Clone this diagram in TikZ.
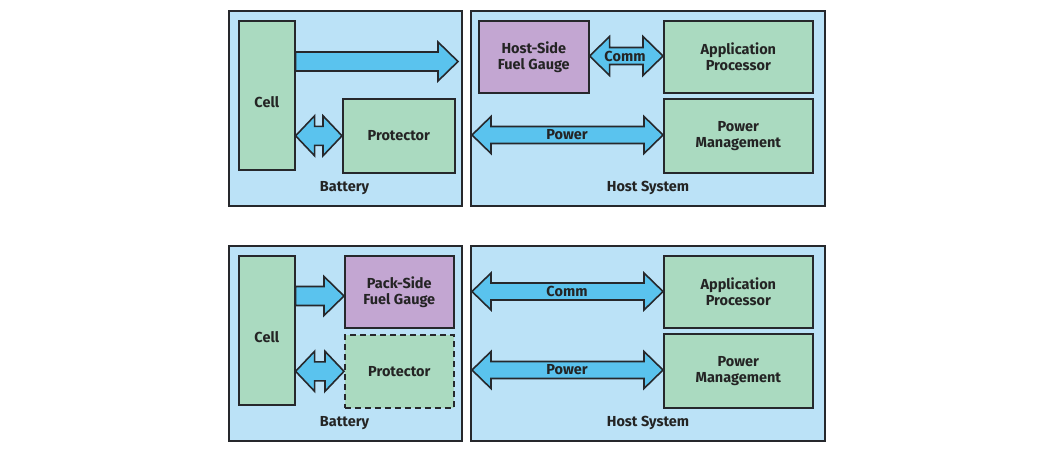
\documentclass[tikz,border=0pt]{standalone}
\usepackage{fontspec}
\setmainfont{Fira Sans}
\usetikzlibrary{calc}
\definecolor{panel}{RGB}{187,226,247}
\definecolor{boxgreen}{RGB}{170,218,192}
\definecolor{boxpurple}{RGB}{195,166,210}
\definecolor{arrcyan}{RGB}{90,195,238}
\definecolor{edge}{RGB}{38,40,44}
\definecolor{txt}{RGB}{36,36,36}
\tikzset{
  base/.style={draw=edge, line width=1.6pt, anchor=north west, inner sep=0pt,
    align=center, text=txt, font=\bfseries\fontsize{14.5}{16}\selectfont},
  panelbox/.style={base, fill=panel},
  greenbox/.style={base, fill=boxgreen},
  purplebox/.style={base, fill=boxpurple},
  dashbox/.style={base, fill=boxgreen, dash pattern=on 6pt off 4pt},
  arr/.style={draw=edge, fill=arrcyan, line width=1.6pt, line join=miter},
  lbl/.style={text=txt, font=\bfseries\fontsize{14.5}{16}\selectfont, inner sep=0pt}
}
% #1 start, #2 end, #3 head length, #4 head half height, #5 body half height
\newcommand\dblarr[5]{%
  \draw[arr] (#1) -- ($(#1)+(#3,#4)$) -- ($(#1)+(#3,#5)$) -- ($(#2)+(-#3,#5)$)
    -- ($(#2)+(-#3,#4)$) -- (#2) -- ($(#2)+(-#3,-#4)$) -- ($(#2)+(-#3,-#5)$)
    -- ($(#1)+(#3,-#5)$) -- ($(#1)+(#3,-#4)$) -- cycle;}
\newcommand\sglarr[5]{%
  \draw[arr] ($(#1)+(0,#5)$) -- ($(#2)+(-#3,#5)$) -- ($(#2)+(-#3,#4)$) -- (#2)
    -- ($(#2)+(-#3,-#4)$) -- ($(#2)+(-#3,-#5)$) -- ($(#1)+(0,-#5)$) -- cycle;}
\begin{document}
\begin{tikzpicture}[x=1pt,y=-1pt]
\useasboundingbox[fill=white] (0,0) rectangle (1051,450);
% ---------- top ----------
\node[panelbox, minimum width=233, minimum height=195] (bat1) at (228,10) {};
\node[greenbox, minimum width=56, minimum height=149] (cell1) at (238,20) {};
\node[lbl] (cell1lbl) at ($(cell1.center)+(0,7)$) {Cell};
\node[greenbox, minimum width=112, minimum height=74] (prot1) at (342,98) {Protector};
\node[lbl] (bat1lbl) at (344.5,188) {Battery};
\node[panelbox, minimum width=354, minimum height=195] (host1) at (470,10) {};
\node[purplebox, minimum width=110, minimum height=72] (hsfg) at (478,20) {Host-Side\\Fuel Gauge};
\node[greenbox, minimum width=149, minimum height=72] (ap1) at (663,20) {Application\\Processor};
\node[greenbox, minimum width=149, minimum height=74] (pm1) at (663,98) {Power\\Management};
\node[lbl] (host1lbl) at (648,188) {Host System};
\coordinate (a1s) at (cell1.east |- 0,61.5);
\coordinate (a1e) at (458,61.5);
\sglarr{a1s}{a1e}{20}{19.5}{9.5}
\coordinate (a2s) at (cell1.east |- prot1.west);
\dblarr{a2s}{prot1.west}{19}{20}{9.5}
\coordinate (c1s) at (hsfg.east |- 0,56);
\coordinate (c1e) at (ap1.west |- 0,56);
\dblarr{c1s}{c1e}{20}{19.5}{8.5}
\node[lbl] (comm1) at (625,56) {Comm};
\coordinate (p1s) at (472,135);
\coordinate (p1e) at (pm1.west |- p1s);
\dblarr{p1s}{p1e}{19}{18.5}{8.5}
\node[lbl] (pow1) at (567,135) {Power};
% ---------- bottom ----------
\node[panelbox, minimum width=233, minimum height=195] (bat2) at (228,245) {};
\node[greenbox, minimum width=56, minimum height=149] (cell2) at (238,255) {};
\node[lbl] (cell2lbl) at ($(cell2.center)+(0,7)$) {Cell};
\node[purplebox, minimum width=109, minimum height=72] (psfg) at (344,255) {Pack-Side\\Fuel Gauge};
\node[dashbox, minimum width=109, minimum height=73] (prot2) at (344,334) {Protector};
\node[lbl] (bat2lbl) at (344.5,423) {Battery};
\node[panelbox, minimum width=354, minimum height=195] (host2) at (470,245) {};
\node[greenbox, minimum width=149, minimum height=72] (ap2) at (663,255) {Application\\Processor};
\node[greenbox, minimum width=149, minimum height=74] (pm2) at (663,333) {Power\\Management};
\node[lbl] (host2lbl) at (648,423) {Host System};
\coordinate (b1s) at (cell2.east |- 0,296);
\coordinate (b1e) at (psfg.west |- 0,296);
\sglarr{b1s}{b1e}{20}{19.5}{9.5}
\coordinate (b2s) at (cell2.east |- prot2.west);
\coordinate (b2e) at (prot2.west);
\dblarr{b2s}{b2e}{19}{20}{9.5}
\coordinate (c2s) at (472,291.5);
\coordinate (c2e) at (ap2.west |- c2s);
\dblarr{c2s}{c2e}{19}{18.5}{8.5}
\node[lbl] (comm2) at (567,291.5) {Comm};
\coordinate (p2s) at (472,370);
\coordinate (p2e) at (pm2.west |- p2s);
\dblarr{p2s}{p2e}{19}{18.5}{8.5}
\node[lbl] (pow2) at (567,370) {Power};
\end{tikzpicture}
\end{document}
